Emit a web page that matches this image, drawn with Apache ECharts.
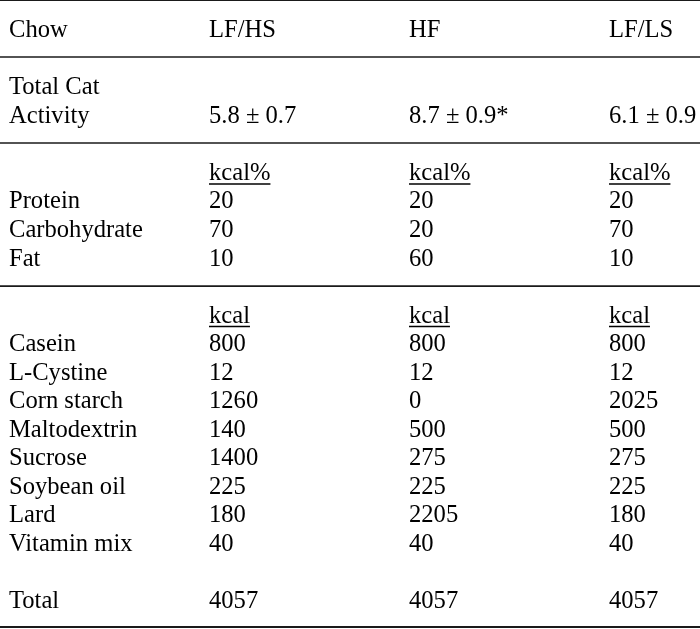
<!DOCTYPE html>
<html>
<head>
<meta charset="utf-8">
<script src="https://cdn.jsdelivr.net/npm/echarts@6/dist/echarts.min.js"></script>
<style>
  html, body { margin: 0; padding: 0; background: #fff; }
  #chart { width: 700px; height: 629px; }
</style>
</head>
<body>
<div id="chart"></div>
<script>
// ---- data ----
const columnHeaders = ['Chow', 'LF/HS', 'HF', 'LF/LS'];
const activityLabel = ['Total Cat', 'Activity'];
const activityValues = ['5.8 ± 0.7', '8.7 ± 0.9*', '6.1 ± 0.9'];
const macroUnit = 'kcal%';
const macroNames = ['Protein', 'Carbohydrate', 'Fat'];
const macroLFHS = [20, 70, 10];
const macroHF = [20, 20, 60];
const macroLFLS = [20, 70, 10];
const ingredientUnit = 'kcal';
const ingredientNames = ['Casein', 'L-Cystine', 'Corn starch', 'Maltodextrin', 'Sucrose', 'Soybean oil', 'Lard', 'Vitamin mix'];
const ingredientLFHS = [800, 12, 1260, 140, 1400, 225, 180, 40];
const ingredientHF = [800, 12, 0, 500, 275, 225, 2205, 40];
const ingredientLFLS = [800, 12, 2025, 500, 275, 225, 180, 40];
const totalLabel = 'Total';
const totalValues = [4057, 4057, 4057];

// ---- layout (row/column indices on hidden value axes) ----
const FONT = '24.6px "Liberation Serif", "Times New Roman", serif';
const cells = [];
function add(col, row, text, underline) { cells.push({ col, row, text: String(text), underline: !!underline }); }

columnHeaders.forEach((h, c) => add(c, 0, h));
add(0, 2, activityLabel[0]);
add(0, 3, activityLabel[1]);
activityValues.forEach((v, i) => add(i + 1, 3, v));

const macroCols = [macroLFHS, macroHF, macroLFLS];
for (let c = 1; c <= 3; c++) add(c, 5, macroUnit, true);
macroNames.forEach((n, i) => {
  add(0, 6 + i, n);
  macroCols.forEach((arr, c) => add(c + 1, 6 + i, arr[i]));
});

const ingCols = [ingredientLFHS, ingredientHF, ingredientLFLS];
for (let c = 1; c <= 3; c++) add(c, 10, ingredientUnit, true);
ingredientNames.forEach((n, i) => {
  add(0, 11 + i, n);
  ingCols.forEach((arr, c) => add(c + 1, 11 + i, arr[i]));
});
add(0, 20, totalLabel);
totalValues.forEach((v, i) => add(i + 1, 20, v));

const rules = [
  { row: -1.07, w: 1.2 },
  { row: 0.91, w: 1.6 },
  { row: 3.93, w: 1.6 },
  { row: 8.95, w: 1.6 },
  { row: 20.91, w: 2.2 }
];

const measureCtx = document.createElement('canvas').getContext('2d');
measureCtx.font = FONT;

const chart = echarts.init(document.getElementById('chart'), null, { renderer: 'canvas' });
chart.setOption({
  animation: false,
  backgroundColor: '#fff',
  grid: { left: 0, right: 0, top: 0, bottom: 0 },
  xAxis: { type: 'value', min: -0.045, max: 3.455, show: false },
  yAxis: { type: 'value', inverse: true, min: -1.088, max: 20.98, show: false },
  series: [
    {
      type: 'custom',
      clip: false,
      silent: true,
      data: rules.map(r => [0, r.row]),
      renderItem: function (params, api) {
        const cs = params.coordSys;
        const y = api.coord([0, api.value(1)])[1];
        return {
          type: 'line',
          shape: { x1: cs.x, y1: y, x2: cs.x + cs.width, y2: y },
          style: { stroke: '#1a1a1a', lineWidth: rules[params.dataIndex].w }
        };
      }
    },
    {
      type: 'custom',
      clip: false,
      silent: true,
      data: cells.map(c => [c.col, c.row]),
      renderItem: function (params, api) {
        const cell = cells[params.dataIndex];
        const p = api.coord([api.value(0), api.value(1)]);
        const children = [{
          type: 'text',
          x: p[0], y: p[1],
          style: { text: cell.text, fill: '#000', font: FONT, align: 'left', verticalAlign: 'middle' }
        }];
        if (cell.underline) {
          const w = measureCtx.measureText(cell.text).width;
          children.push({
            type: 'line',
            shape: { x1: p[0], y1: p[1] + 10.5, x2: p[0] + w, y2: p[1] + 10.5 },
            style: { stroke: '#000', lineWidth: 1.5 }
          });
        }
        return { type: 'group', children };
      }
    }
  ]
});
</script>
</body>
</html>
